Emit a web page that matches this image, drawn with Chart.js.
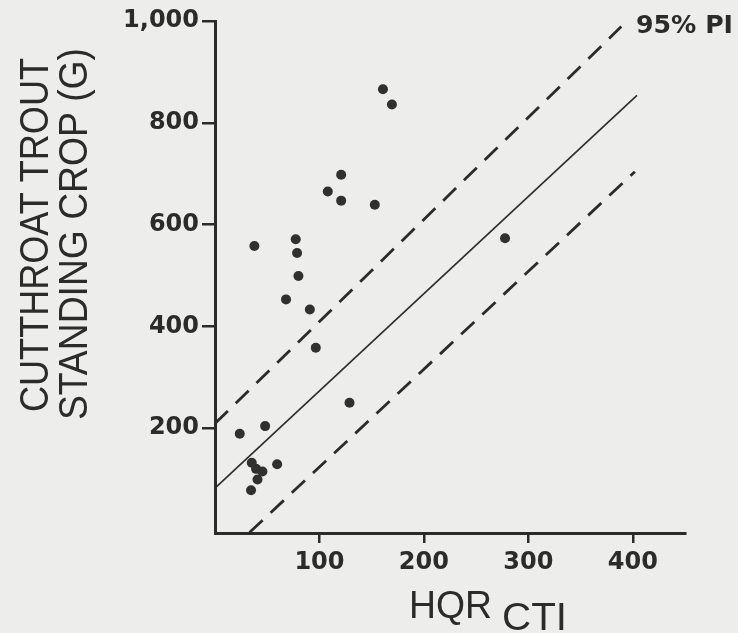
<!DOCTYPE html>
<html>
<head>
<meta charset="utf-8">
<script src="https://cdn.jsdelivr.net/npm/chart.js@4.4.1/dist/chart.umd.min.js"></script>
<style>
  html, body { margin: 0; padding: 0; background: #ededeb; }
  #wrap { width: 738px; height: 633px; }
</style>
</head>
<body>
<div id="wrap"><canvas id="chart" width="738" height="633"></canvas></div>
<script>
// values
const hqr  = [160.8, 169.4, 120.8, 108, 120.8, 153, 37.7, 77.3, 78.6, 79.9, 68, 90.8, 96.5, 128.8, 23.7, 48, 35.2, 39.3, 45.4, 59.5, 40.7, 34.5, 277.7];
const crop = [866, 836, 698, 665, 647, 639, 558, 571, 544, 499, 453, 433, 358, 250, 189, 204, 132, 120, 115, 129, 99, 78, 573];

// regression line and 95% prediction interval (end points)
const fitX = [0, 404];
const fitY = [82, 854];
const upperX = [0, 389];
const upperY = [209, 989];
const lowerX = [33, 402];
const lowerY = [-5, 704];

const xTicks = [100, 200, 300, 400];
const yTicks = [200, 400, 600, 800, 1000];
const xRange = [0, 450];
const yRange = [-6, 1000];

const ink = '#2b2b2b';
const paper = '#ededeb';

function toPoints(xs, ys) {
    return xs.map((x, i) => ({ x: x, y: ys[i] }));
}

function stretchText(ctx, text, x, y, width, angle) {
    ctx.save();
    ctx.translate(x, y);
    ctx.rotate(angle);
    var w = ctx.measureText(text).width;
    ctx.scale(width / w, 1);
    ctx.fillText(text, 0, 0);
    ctx.restore();
}

const paperPlugin = {
    id: 'paper',
    beforeDraw(chart) {
        const ctx = chart.ctx;
        ctx.save();
        ctx.fillStyle = paper;
        ctx.fillRect(0, 0, chart.width, chart.height);
        ctx.restore();
    }
};

const titlesPlugin = {
    id: 'titles',
    afterDraw(chart) {
        const ctx = chart.ctx;
        ctx.save();
        ctx.fillStyle = ink;
        ctx.textAlign = 'left';
        ctx.textBaseline = 'alphabetic';

        ctx.font = '40px "Liberation Sans"';
        stretchText(ctx, 'CUTTHROAT TROUT', 48, 412, 354, -Math.PI / 2);
        stretchText(ctx, 'STANDING CROP (G)', 87, 420, 372, -Math.PI / 2);

        ctx.font = '38px "Liberation Sans"';
        stretchText(ctx, 'HQR', 409, 618, 83, 0);
        stretchText(ctx, 'CTI', 502, 630, 65, 0);

        ctx.font = 'bold 25px "DejaVu Sans"';
        stretchText(ctx, '95% PI', 636, 33, 97, 0);
        ctx.restore();
    }
};

const tickFont = { family: 'DejaVu Sans', weight: 'bold', size: 24 };

new Chart(document.getElementById('chart'), {
    type: 'scatter',
    data: {
        datasets: [
            {
                data: toPoints(fitX, fitY),
                showLine: true,
                borderColor: ink,
                borderWidth: 1.6,
                pointRadius: 0
            },
            {
                data: toPoints(upperX, upperY),
                showLine: true,
                borderColor: ink,
                borderWidth: 2.8,
                borderDash: [18, 11],
                pointRadius: 0
            },
            {
                data: toPoints(lowerX, lowerY),
                showLine: true,
                borderColor: ink,
                borderWidth: 2.8,
                borderDash: [18, 11],
                pointRadius: 0
            },
            {
                data: toPoints(hqr, crop),
                pointRadius: 5,
                pointBackgroundColor: '#303030',
                pointBorderWidth: 0
            }
        ]
    },
    options: {
        responsive: false,
        devicePixelRatio: 1,
        animation: false,
        layout: { padding: { top: 21, right: 53, bottom: 0, left: 0 } },
        plugins: {
            legend: { display: false },
            tooltip: { enabled: false }
        },
        scales: {
            x: {
                type: 'linear',
                min: xRange[0],
                max: xRange[1],
                afterBuildTicks: s => { s.ticks = xTicks.map(v => ({ value: v })); },
                afterFit: s => { s.height = 100; },
                border: { display: true, color: ink, width: 3 },
                grid: { drawOnChartArea: false, drawTicks: true, tickLength: 10, color: ink, lineWidth: 2.5 },
                ticks: { color: ink, font: tickFont, padding: 5, maxRotation: 0, autoSkip: false }
            },
            y: {
                type: 'linear',
                min: yRange[0],
                max: yRange[1],
                afterBuildTicks: s => { s.ticks = yTicks.map(v => ({ value: v })); },
                afterFit: s => { s.width = 215; },
                border: { display: true, color: ink, width: 3 },
                grid: { drawOnChartArea: false, drawTicks: true, tickLength: 13, color: ink, lineWidth: 2.5 },
                ticks: {
                    color: ink,
                    font: tickFont,
                    padding: 3,
                    autoSkip: false,
                    callback: v => v === 1000 ? '1,000' : String(v)
                }
            }
        }
    },
    plugins: [paperPlugin, titlesPlugin]
});
</script>
</body>
</html>
